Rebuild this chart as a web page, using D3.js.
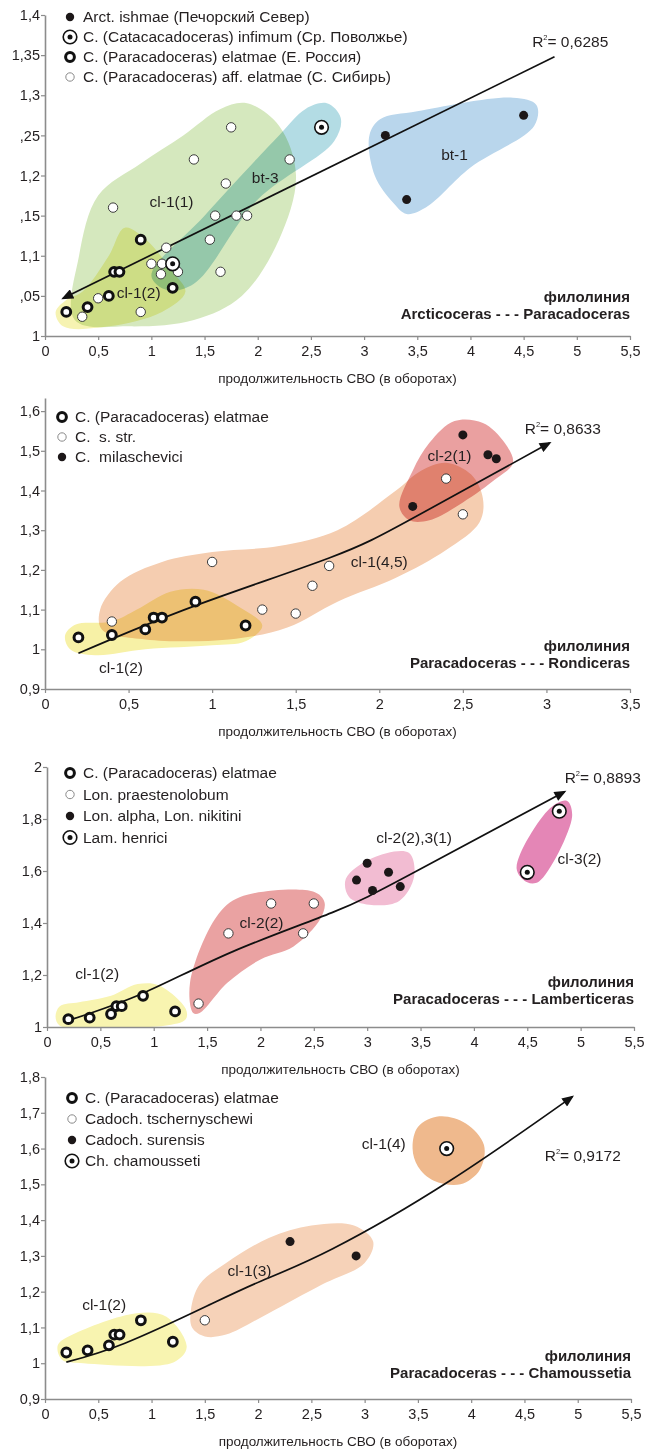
<!DOCTYPE html>
<html>
<head>
<meta charset="utf-8">
<script src="https://cdn.jsdelivr.net/npm/d3@7"></script>
<style>
  body { margin: 0; background: #fff; }
  svg text { font-family: Arial, "Liberation Sans", sans-serif; fill: #231f20; white-space: pre; }
</style>
</head>
<body>
<div id="viz"></div>
<script>
// ---------- tick values / labels ----------
const xTicks55 = [0, 0.5, 1, 1.5, 2, 2.5, 3, 3.5, 4, 4.5, 5, 5.5];
const xLabels55 = ['0', '0,5', '1', '1,5', '2', '2,5', '3', '3,5', '4', '4,5', '5', '5,5'];
const xTicks35 = [0, 0.5, 1, 1.5, 2, 2.5, 3, 3.5];
const xLabels35 = ['0', '0,5', '1', '1,5', '2', '2,5', '3', '3,5'];

const p1YTicks = [1, 1.05, 1.1, 1.15, 1.2, 1.25, 1.3, 1.35, 1.4];
const p1YLabels = ['1', ',05', '1,1', ',15', '1,2', ',25', '1,3', '1,35', '1,4'];
const p2YTicks = [0.9, 1, 1.1, 1.2, 1.3, 1.4, 1.5, 1.6];
const p2YLabels = ['0,9', '1', '1,1', '1,2', '1,3', '1,4', '1,5', '1,6'];
const p3YTicks = [1, 1.2, 1.4, 1.6, 1.8, 2];
const p3YLabels = ['1', '1,2', '1,4', '1,6', '1,8', '2'];
const p4YTicks = [0.9, 1, 1.1, 1.2, 1.3, 1.4, 1.5, 1.6, 1.7, 1.8];
const p4YLabels = ['0,9', '1', '1,1', '1,2', '1,3', '1,4', '1,5', '1,6', '1,7', '1,8'];

// ---------- series (x = duration, y = ratio) ----------
const elatmae = [[0.2, 1.03], [0.4, 1.036], [0.6, 1.05], [0.65, 1.08], [0.7, 1.08], [0.9, 1.12], [1.2, 1.06]];

const p1Ishmae = [[3.2, 1.25], [4.5, 1.275], [3.4, 1.17]];
const p1Infimum = [[2.6, 1.26], [1.2, 1.09]];
const p1AffElatmae = [[1.75, 1.26], [1.4, 1.22], [2.3, 1.22], [1.7, 1.19], [0.64, 1.16], [1.6, 1.15], [1.8, 1.15],
  [1.9, 1.15], [1.55, 1.12], [1.14, 1.11], [1.0, 1.09], [1.1, 1.09], [1.09, 1.077], [1.25, 1.08], [1.65, 1.08],
  [0.5, 1.047], [0.35, 1.024], [0.9, 1.03]];
const p1Trend = [[0.17, 1.047], [4.79, 1.348]];

const p2Sstr = [[1.0, 1.22], [1.7, 1.21], [1.6, 1.16], [1.3, 1.1], [1.5, 1.09], [0.4, 1.07], [2.4, 1.43], [2.5, 1.34]];
const p2Milaschevici = [[2.5, 1.54], [2.65, 1.49], [2.7, 1.48], [2.2, 1.36]];
const p2Trend = [[0.2, 0.99], [0.9, 1.11], [1.7, 1.23], [2.2, 1.33], [3.02, 1.52]];

const p3Praesten = [[1.42, 1.09], [1.7, 1.36], [2.1, 1.475], [2.4, 1.36], [2.5, 1.475]];
const p3Alpha = [[3.0, 1.63], [2.9, 1.565], [3.2, 1.595], [3.05, 1.525], [3.31, 1.54]];
const p3Henrici = [[4.8, 1.83], [4.5, 1.595]];
const p3Trend = [[0.2, 1.025], [0.9, 1.13], [1.74, 1.29], [2.67, 1.44], [3.42, 1.59], [4.85, 1.905]];

const p4Tscher = [[1.5, 1.12]];
const p4Surensis = [[2.3, 1.34], [2.92, 1.3]];
const p4Chamous = [[3.77, 1.6]];
const p4Trend = [[0.2, 1.003], [0.75, 1.056], [1.52, 1.16], [2.03, 1.23], [2.7, 1.32], [3.8, 1.51], [4.95, 1.745]];

// ---------- cluster outlines (data coords) ----------
const p1HullCl11 = [[0.28, 1.02], [0.32, 1.1], [0.5, 1.175], [0.9, 1.215], [1.3, 1.25], [1.65, 1.283], [1.9, 1.29],
  [2.2, 1.262], [2.36, 1.2], [2.2, 1.12], [1.85, 1.05], [1.4, 1.02], [0.8, 1.012]];
const p1HullBt3 = [[1.0, 1.075], [1.5, 1.15], [2.2, 1.25], [2.45, 1.283], [2.65, 1.29], [2.78, 1.272], [2.72, 1.243],
  [2.0, 1.17], [1.4, 1.065], [1.15, 1.057]];
const p1HullCl12 = [[0.1, 1.03], [0.17, 1.012], [0.6, 1.012], [1.1, 1.03], [1.32, 1.055], [1.2, 1.08], [0.95, 1.12],
  [0.75, 1.135], [0.6, 1.1], [0.35, 1.055], [0.2, 1.045]];
const p1HullBt1 = [[3.05, 1.25], [3.15, 1.27], [3.5, 1.28], [4.4, 1.297], [4.62, 1.288], [4.6, 1.262], [4.0, 1.21],
  [3.58, 1.16], [3.4, 1.152], [3.28, 1.165], [3.1, 1.2]];

const p2HullCl45 = [[0.34, 1.05], [0.33, 1.1], [0.45, 1.17], [0.7, 1.22], [1.0, 1.245], [1.4, 1.26], [1.75, 1.3],
  [2.1, 1.4], [2.25, 1.45], [2.4, 1.47], [2.55, 1.44], [2.62, 1.38], [2.6, 1.32], [2.4, 1.25], [2.1, 1.18],
  [1.75, 1.12], [1.45, 1.055], [1.1, 1.025], [0.6, 1.025]];
const p2HullCl12 = [[0.12, 1.035], [0.18, 1.062], [0.4, 1.07], [0.55, 1.1], [0.75, 1.145], [0.95, 1.15], [1.15, 1.11],
  [1.3, 1.06], [1.2, 1.02], [1.0, 1.01], [0.6, 1.0], [0.3, 0.985], [0.15, 1.0]];
const p2HullCl21 = [[2.12, 1.36], [2.2, 1.45], [2.3, 1.52], [2.45, 1.575], [2.62, 1.57], [2.75, 1.52], [2.8, 1.47],
  [2.7, 1.43], [2.5, 1.37], [2.3, 1.325], [2.18, 1.325]];

const p3HullCl12 = [[0.08, 1.04], [0.12, 1.08], [0.3, 1.095], [0.6, 1.12], [0.85, 1.165], [1.05, 1.16], [1.3, 1.07],
  [1.3, 1.03], [1.1, 1.005], [0.5, 1.0], [0.12, 1.005]];
const p3HullCl22 = [[1.37, 1.054], [1.34, 1.17], [1.59, 1.425], [1.81, 1.5], [2.5, 1.52], [2.6, 1.48], [2.56, 1.415],
  [2.31, 1.31], [2.0, 1.26], [1.69, 1.17], [1.43, 1.054]];
const p3HullCl2231 = [[2.8, 1.57], [3.05, 1.65], [3.39, 1.67], [3.44, 1.58], [3.3, 1.485], [3.02, 1.47], [2.83, 1.5]];
const p3HullCl32 = [[4.87, 1.87], [4.92, 1.81], [4.61, 1.56], [4.5, 1.557], [4.4, 1.61], [4.71, 1.84]];

const p4HullCl12 = [[0.12, 1.05], [0.26, 1.08], [0.86, 1.14], [1.14, 1.13], [1.33, 1.045], [1.21, 1.003], [0.36, 1.0],
  [0.16, 1.01]];
const p4HullCl13 = [[1.37, 1.15], [1.45, 1.22], [1.7, 1.28], [2.1, 1.35], [2.5, 1.385], [2.9, 1.385], [3.08, 1.34],
  [3.0, 1.28], [2.6, 1.22], [2.1, 1.14], [1.7, 1.08], [1.5, 1.075], [1.38, 1.1]];
const p4HullCl14 = [[3.45, 1.6], [3.5, 1.66], [3.7, 1.69], [3.95, 1.67], [4.12, 1.61], [4.08, 1.54], [3.9, 1.5],
  [3.65, 1.51], [3.5, 1.55]];

// ---------- panel layout ----------
const panels = [
  {
    x: [45, 630], y: [336, 15], xDomain: [0, 5.5], yDomain: [1, 1.4],
    xTicks: xTicks55, xLabels: xLabels55, yTicks: p1YTicks, yLabels: p1YLabels,
    hulls: [
      {pts: p1HullCl11, color: '#d5e8be'}, {pts: p1HullBt3, color: '#b3dce4'},
      {pts: p1HullCl12, color: '#f6f3b2'}, {pts: p1HullBt1, color: '#b9d6ec'}
    ],
    trend: p1Trend, arrowStart: true,
    series: [
      {pts: p1AffElatmae, type: 'open'}, {pts: elatmae, type: 'ring'},
      {pts: p1Ishmae, type: 'dot'}, {pts: p1Infimum, type: 'target'}
    ],
    notes: [['bt-3', 2.07, 1.197], ['bt-1', 3.85, 1.226], ['cl-1(1)', 1.19, 1.167], ['cl-1(2)', 0.88, 1.054]],
    r2: ['0,6285', 4.58, 1.367],
    legend: {x: 70, y: 17, step: 20, items: [
      ['dot', 'Arct. ishmae (Печорский Север)'],
      ['target', 'C. (Catacacadoceras) infimum (Ср. Поволжье)'],
      ['ring', 'C. (Paracadoceras) elatmae (Е. Россия)'],
      ['open', 'C. (Paracadoceras) aff. elatmae (С. Сибирь)']]},
    phylo: ['филолиния', 'Arcticoceras - - - Paracadoceras'], phyloOff: 34
  },
  {
    x: [45, 630], y: [689, 398], xDomain: [0, 3.5], yDomain: [0.9, 1.633],
    xTicks: xTicks35, xLabels: xLabels35, yTicks: p2YTicks, yLabels: p2YLabels,
    hulls: [
      {pts: p2HullCl45, color: '#f5cdb0'}, {pts: p2HullCl12, color: '#f7f1a6'},
      {pts: p2HullCl21, color: '#eaa0a0'}
    ],
    trend: p2Trend,
    series: [
      {pts: p2Sstr, type: 'open'}, {pts: elatmae, type: 'ring'}, {pts: p2Milaschevici, type: 'dot'}
    ],
    notes: [['cl-2(1)', 2.42, 1.489], ['cl-1(4,5)', 2.0, 1.22], ['cl-1(2)', 0.455, 0.953]],
    r2: ['0,8633', 2.87, 1.557],
    legend: {x: 62, y: 417, step: 20, items: [
      ['ring', 'C. (Paracadoceras) elatmae'],
      ['open', 'C.  s. str.'],
      ['dot', 'C.  milaschevici']]},
    phylo: ['филолиния', 'Paracadoceras - - - Rondiceras'], phyloOff: 38
  },
  {
    x: [47, 634], y: [1027, 767], xDomain: [0, 5.5], yDomain: [1, 2],
    xTicks: xTicks55, xLabels: xLabels55, yTicks: p3YTicks, yLabels: p3YLabels,
    hulls: [
      {pts: p3HullCl12, color: '#f8f4b0'}, {pts: p3HullCl22, color: '#eaa2a2'},
      {pts: p3HullCl2231, color: '#f2bcd2'}, {pts: p3HullCl32, color: '#e486b6'}
    ],
    trend: p3Trend,
    series: [
      {pts: elatmae, type: 'ring'}, {pts: p3Praesten, type: 'open'},
      {pts: p3Alpha, type: 'dot'}, {pts: p3Henrici, type: 'target'}
    ],
    notes: [['cl-1(2)', 0.47, 1.205], ['cl-2(2)', 2.01, 1.40], ['cl-2(2),3(1)', 3.44, 1.73], ['cl-3(2)', 4.99, 1.646]],
    r2: ['0,8893', 4.85, 1.96],
    legend: {x: 70, y: 773, step: 21.5, items: [
      ['ring', 'C. (Paracadoceras) elatmae'],
      ['open', 'Lon. praestenolobum'],
      ['dot', 'Lon. alpha, Lon. nikitini'],
      ['target', 'Lam. henrici']]},
    phylo: ['филолиния', 'Paracadoceras - - - Lamberticeras'], phyloOff: 40
  },
  {
    x: [45, 631], y: [1399, 1077], xDomain: [0, 5.5], yDomain: [0.9, 1.8],
    xTicks: xTicks55, xLabels: xLabels55, yTicks: p4YTicks, yLabels: p4YLabels,
    hulls: [
      {pts: p4HullCl12, color: '#f8f4b0'}, {pts: p4HullCl13, color: '#f6d2b8'},
      {pts: p4HullCl14, color: '#efb98d'}
    ],
    trend: p4Trend,
    series: [
      {pts: elatmae, type: 'ring'}, {pts: p4Tscher, type: 'open'},
      {pts: p4Surensis, type: 'dot'}, {pts: p4Chamous, type: 'target'}
    ],
    notes: [['cl-1(2)', 0.555, 1.163], ['cl-1(3)', 1.92, 1.26], ['cl-1(4)', 3.18, 1.615]],
    r2: ['0,9172', 4.69, 1.58],
    legend: {x: 72, y: 1098, step: 21, items: [
      ['ring', 'C. (Paracadoceras) elatmae'],
      ['open', 'Cadoch. tschernyschewi'],
      ['dot', 'Cadoch. surensis'],
      ['target', 'Ch. chamousseti']]},
    phylo: ['филолиния', 'Paracadoceras - - - Chamoussetia'], phyloOff: 38
  }
];

const svg = d3.select('#viz').append('svg')
  .attr('width', 664)
  .attr('height', 1454);

svg.append('defs').append('marker')
  .attr('id', 'arrow')
  .attr('viewBox', '0 0 12 10')
  .attr('refX', 10).attr('refY', 5)
  .attr('markerWidth', 13).attr('markerHeight', 10)
  .attr('markerUnits', 'userSpaceOnUse')
  .attr('orient', 'auto-start-reverse')
  .append('path')
    .attr('d', 'M0,0 L12,5 L0,10 Z')
    .attr('fill', '#111');

// draws one point symbol
function drawSymbol(g, type, cx, cy, inLegend) {
  if (type === 'dot') {
    g.append('circle').attr('cx', cx).attr('cy', cy).attr('r', inLegend ? 4.2 : 4.5).attr('fill', '#1c1718');
  } else if (type === 'open') {
    g.append('circle').attr('cx', cx).attr('cy', cy).attr('r', inLegend ? 4.2 : 4.7)
      .attr('fill', '#fff').attr('stroke', inLegend ? '#8a8a8a' : '#3a3a3a').attr('stroke-width', 1);
  } else if (type === 'ring') {
    g.append('circle').attr('cx', cx).attr('cy', cy).attr('r', 4.4)
      .attr('fill', '#fff').attr('stroke', '#111').attr('stroke-width', 3);
  } else if (type === 'target') {
    g.append('circle').attr('cx', cx).attr('cy', cy).attr('r', 6.8)
      .attr('fill', '#fff').attr('stroke', '#111').attr('stroke-width', 1.6);
    g.append('circle').attr('cx', cx).attr('cy', cy).attr('r', 2.5).attr('fill', '#111');
  }
}

panels.forEach(p => {
  const g = svg.append('g');
  const xScale = d3.scaleLinear().domain(p.xDomain).range(p.x);
  const yScale = d3.scaleLinear().domain(p.yDomain).range(p.y);

  // cluster outlines
  const blob = d3.line()
    .x(d => xScale(d[0]))
    .y(d => yScale(d[1]))
    .curve(d3.curveCatmullRomClosed.alpha(0.5));
  g.append('g').selectAll('path')
    .data(p.hulls)
    .join('path')
      .attr('d', d => blob(d.pts))
      .attr('fill', d => d.color)
      .style('mix-blend-mode', 'multiply');

  // axes
  const xAxis = d3.axisBottom(xScale)
    .tickValues(p.xTicks)
    .tickFormat((d, i) => p.xLabels[i])
    .tickSize(4).tickSizeOuter(0).tickPadding(6);
  const yAxis = d3.axisLeft(yScale)
    .tickValues(p.yTicks)
    .tickFormat((d, i) => p.yLabels[i])
    .tickSize(4).tickSizeOuter(0).tickPadding(1);

  const xg = g.append('g').attr('transform', `translate(0,${p.y[0]})`).call(xAxis);
  const yg = g.append('g').attr('transform', `translate(${p.x[0]},0)`).call(yAxis);
  [xg, yg].forEach(a => {
    a.select('.domain').attr('stroke', '#8c8c8c').attr('stroke-width', 1.6);
    a.selectAll('.tick line').attr('stroke', '#8c8c8c').attr('stroke-width', 1.2);
    a.selectAll('.tick text').style('font-size', '14.5px').attr('fill', '#231f20')
      .style('font-family', 'Arial, "Liberation Sans", sans-serif');
  });

  // axis title
  g.append('text')
    .attr('x', (p.x[0] + p.x[1]) / 2)
    .attr('y', p.y[0] + 47)
    .attr('text-anchor', 'middle')
    .style('font-size', '13.5px')
    .text('продолжительность СВО (в оборотах)');

  // trend line with arrow
  const trendLine = d3.line()
    .x(d => xScale(d[0]))
    .y(d => yScale(d[1]))
    .curve(d3.curveNatural);
  g.append('path')
    .attr('d', trendLine(p.trend))
    .attr('fill', 'none')
    .attr('stroke', '#111')
    .attr('stroke-width', 1.7)
    .attr(p.arrowStart ? 'marker-start' : 'marker-end', 'url(#arrow)');

  // cluster names
  g.append('g').selectAll('text')
    .data(p.notes)
    .join('text')
      .attr('x', d => xScale(d[1]))
      .attr('y', d => yScale(d[2]))
      .attr('dy', '0.35em')
      .attr('text-anchor', 'middle')
      .style('font-size', '15.5px')
      .text(d => d[0]);

  // R^2
  const r2 = g.append('text')
    .attr('x', xScale(p.r2[1]))
    .attr('y', yScale(p.r2[2]))
    .attr('dy', '0.35em')
    .style('font-size', '15.5px');
  r2.append('tspan').text('R');
  r2.append('tspan').attr('dy', -7).style('font-size', '7.5px').text('2');
  r2.append('tspan').attr('dy', 7).text('= ' + p.r2[0]);

  // points
  p.series.forEach(s => {
    s.pts.forEach(d => drawSymbol(g, s.type, xScale(d[0]), yScale(d[1]), false));
  });

  // legend
  const lg = g.append('g');
  p.legend.items.forEach((it, i) => {
    const ly = p.legend.y + i * p.legend.step;
    drawSymbol(lg, it[0], p.legend.x, ly, true);
    lg.append('text')
      .attr('x', p.legend.x + 13)
      .attr('y', ly)
      .attr('dy', '0.35em')
      .style('font-size', '15.5px')
      .text(it[1]);
  });

  // phylogenetic line caption
  p.phylo.forEach((t, i) => {
    g.append('text')
      .attr('x', p.x[1])
      .attr('y', p.y[0] - p.phyloOff + i * 16.5)
      .attr('text-anchor', 'end')
      .style('font-size', '15px')
      .style('font-weight', 'bold')
      .text(t);
  });
});
</script>
</body>
</html>
